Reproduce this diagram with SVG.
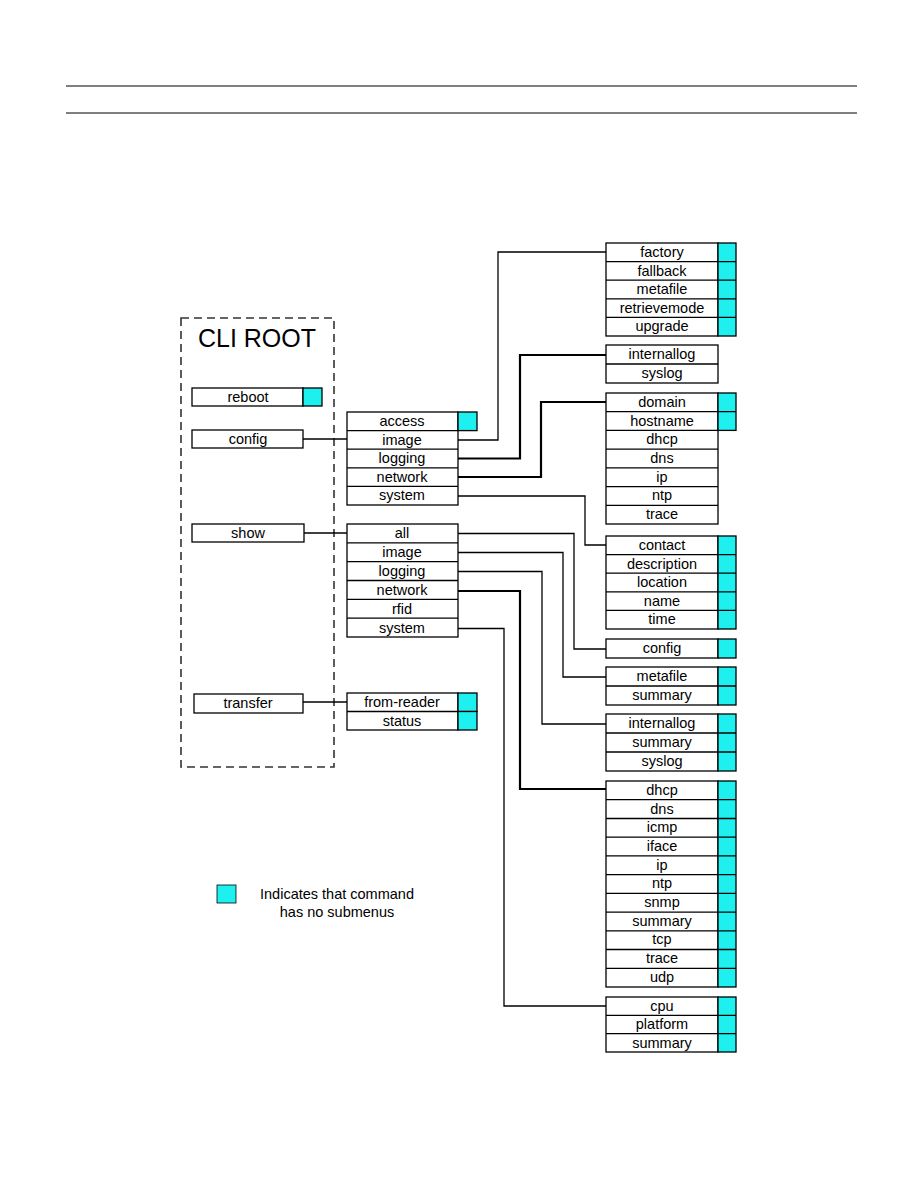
<svg xmlns="http://www.w3.org/2000/svg" width="918" height="1188" viewBox="0 0 918 1188">
<style>
.bx{fill:#fff;stroke:#000;stroke-width:1.3}
.cy{fill:#1ef0f0;stroke:#000;stroke-width:1.3}
.sep{stroke:#000;stroke-width:1.3}
.t{font-family:"Liberation Sans",Arial,sans-serif;font-size:14.5px;text-anchor:middle;fill:#000}
.c{fill:none;stroke:#000;stroke-width:1.3}
.ck{fill:none;stroke:#000;stroke-width:2.2}
</style>
<rect width="918" height="1188" fill="#fff"/>
<line x1="66" y1="86" x2="857" y2="86" stroke="#000" stroke-width="1.2"/>
<line x1="66" y1="113" x2="857" y2="113" stroke="#000" stroke-width="1.2"/>

<g id="cli-root">
<rect x="181" y="318" width="153" height="449" fill="none" stroke="#333" stroke-width="1.6" stroke-dasharray="8,5"/>
<text x="257" y="347" font-family="'Liberation Sans',Arial,sans-serif" font-size="25" text-anchor="middle">CLI ROOT</text>
</g>
<g id="reboot"><rect class="bx" x="192" y="388" width="111" height="18"/><rect class="cy" x="303" y="388" width="19" height="18"/><text class="t" x="248" y="402">reboot</text></g>
<g id="config"><rect class="bx" x="192" y="430" width="111" height="18"/><text class="t" x="248" y="444">config</text></g>
<g id="show"><rect class="bx" x="192" y="524" width="112" height="18"/><text class="t" x="248" y="538">show</text></g>
<g id="transfer"><rect class="bx" x="194" y="694" width="109" height="19"/><text class="t" x="248" y="708">transfer</text></g>

<g id="config-menu">
<rect class="bx" x="347" y="412" width="111" height="93"/>
<rect class="cy" x="458" y="412" width="19" height="18.6"/>
<line class="sep" x1="347" y1="430.6" x2="458" y2="430.6"/>
<line class="sep" x1="347" y1="449.2" x2="458" y2="449.2"/>
<line class="sep" x1="347" y1="467.8" x2="458" y2="467.8"/>
<line class="sep" x1="347" y1="486.4" x2="458" y2="486.4"/>
<text class="t" x="402" y="426">access</text>
<text class="t" x="402" y="444.5">image</text>
<text class="t" x="402" y="463">logging</text>
<text class="t" x="402" y="481.5">network</text>
<text class="t" x="402" y="500">system</text>
</g>

<g id="show-menu">
<rect class="bx" x="347" y="524" width="111" height="113"/>
<line class="sep" x1="347" y1="542.8" x2="458" y2="542.8"/>
<line class="sep" x1="347" y1="561.7" x2="458" y2="561.7"/>
<line class="sep" x1="347" y1="580.5" x2="458" y2="580.5"/>
<line class="sep" x1="347" y1="599.3" x2="458" y2="599.3"/>
<line class="sep" x1="347" y1="618.2" x2="458" y2="618.2"/>
<text class="t" x="402" y="538">all</text>
<text class="t" x="402" y="557">image</text>
<text class="t" x="402" y="576">logging</text>
<text class="t" x="402" y="595">network</text>
<text class="t" x="402" y="613.5">rfid</text>
<text class="t" x="402" y="632.5">system</text>
</g>

<g id="transfer-menu">
<rect class="bx" x="347" y="693" width="111" height="37"/>
<rect class="cy" x="458" y="693" width="19" height="18.5"/>
<rect class="cy" x="458" y="711.5" width="19" height="18.5"/>
<line class="sep" x1="347" y1="711.5" x2="458" y2="711.5"/>
<text class="t" x="402" y="707">from-reader</text>
<text class="t" x="402" y="725.5">status</text>
</g>

<g id="config-image">
<rect class="bx" x="606" y="243" width="112" height="93"/>
<rect class="cy" x="718" y="243" width="18" height="93"/>
<line class="sep" x1="606" y1="261.6" x2="736" y2="261.6"/>
<line class="sep" x1="606" y1="280.2" x2="736" y2="280.2"/>
<line class="sep" x1="606" y1="298.8" x2="736" y2="298.8"/>
<line class="sep" x1="606" y1="317.4" x2="736" y2="317.4"/>
<text class="t" x="662" y="257">factory</text>
<text class="t" x="662" y="275.5">fallback</text>
<text class="t" x="662" y="294">metafile</text>
<text class="t" x="662" y="312.5">retrievemode</text>
<text class="t" x="662" y="331">upgrade</text>
</g>

<g id="config-logging">
<rect class="bx" x="606" y="345" width="112" height="38"/>
<line class="sep" x1="606" y1="364" x2="718" y2="364"/>
<text class="t" x="662" y="359">internallog</text>
<text class="t" x="662" y="378">syslog</text>
</g>

<g id="config-network">
<rect class="bx" x="606" y="393" width="112" height="131"/>
<rect class="cy" x="718" y="393" width="18" height="37.4"/>
<line class="sep" x1="606" y1="411.7" x2="736" y2="411.7"/>
<line class="sep" x1="606" y1="430.4" x2="718" y2="430.4"/>
<line class="sep" x1="606" y1="449.1" x2="718" y2="449.1"/>
<line class="sep" x1="606" y1="467.9" x2="718" y2="467.9"/>
<line class="sep" x1="606" y1="486.6" x2="718" y2="486.6"/>
<line class="sep" x1="606" y1="505.3" x2="718" y2="505.3"/>
<text class="t" x="662" y="407">domain</text>
<text class="t" x="662" y="425.5">hostname</text>
<text class="t" x="662" y="444">dhcp</text>
<text class="t" x="662" y="463">dns</text>
<text class="t" x="662" y="481.5">ip</text>
<text class="t" x="662" y="500">ntp</text>
<text class="t" x="662" y="519">trace</text>
</g>

<g id="config-system">
<rect class="bx" x="606" y="536" width="112" height="93"/>
<rect class="cy" x="718" y="536" width="18" height="93"/>
<line class="sep" x1="606" y1="554.6" x2="736" y2="554.6"/>
<line class="sep" x1="606" y1="573.2" x2="736" y2="573.2"/>
<line class="sep" x1="606" y1="591.8" x2="736" y2="591.8"/>
<line class="sep" x1="606" y1="610.4" x2="736" y2="610.4"/>
<text class="t" x="662" y="550">contact</text>
<text class="t" x="662" y="568.5">description</text>
<text class="t" x="662" y="587">location</text>
<text class="t" x="662" y="605.5">name</text>
<text class="t" x="662" y="624">time</text>
</g>

<g id="show-all">
<rect class="bx" x="606" y="639" width="112" height="19"/>
<rect class="cy" x="718" y="639" width="18" height="19"/>
<text class="t" x="662" y="653">config</text>
</g>

<g id="show-image">
<rect class="bx" x="606" y="667" width="112" height="38"/>
<rect class="cy" x="718" y="667" width="18" height="38"/>
<line class="sep" x1="606" y1="686" x2="736" y2="686"/>
<text class="t" x="662" y="681">metafile</text>
<text class="t" x="662" y="700">summary</text>
</g>

<g id="show-logging">
<rect class="bx" x="606" y="714" width="112" height="57"/>
<rect class="cy" x="718" y="714" width="18" height="57"/>
<line class="sep" x1="606" y1="733" x2="736" y2="733"/>
<line class="sep" x1="606" y1="752" x2="736" y2="752"/>
<text class="t" x="662" y="728">internallog</text>
<text class="t" x="662" y="747">summary</text>
<text class="t" x="662" y="766">syslog</text>
</g>

<g id="show-network">
<rect class="bx" x="606" y="781" width="112" height="206"/>
<rect class="cy" x="718" y="781" width="18" height="206"/>
<line class="sep" x1="606" y1="799.7" x2="736" y2="799.7"/>
<line class="sep" x1="606" y1="818.5" x2="736" y2="818.5"/>
<line class="sep" x1="606" y1="837.2" x2="736" y2="837.2"/>
<line class="sep" x1="606" y1="855.9" x2="736" y2="855.9"/>
<line class="sep" x1="606" y1="874.6" x2="736" y2="874.6"/>
<line class="sep" x1="606" y1="893.4" x2="736" y2="893.4"/>
<line class="sep" x1="606" y1="912.1" x2="736" y2="912.1"/>
<line class="sep" x1="606" y1="930.8" x2="736" y2="930.8"/>
<line class="sep" x1="606" y1="949.5" x2="736" y2="949.5"/>
<line class="sep" x1="606" y1="968.3" x2="736" y2="968.3"/>
<text class="t" x="662" y="795">dhcp</text>
<text class="t" x="662" y="813.5">dns</text>
<text class="t" x="662" y="832">icmp</text>
<text class="t" x="662" y="851">iface</text>
<text class="t" x="662" y="869.5">ip</text>
<text class="t" x="662" y="888">ntp</text>
<text class="t" x="662" y="907">snmp</text>
<text class="t" x="662" y="925.5">summary</text>
<text class="t" x="662" y="944">tcp</text>
<text class="t" x="662" y="963">trace</text>
<text class="t" x="662" y="981.5">udp</text>
</g>

<g id="show-system">
<rect class="bx" x="606" y="997" width="112" height="55"/>
<rect class="cy" x="718" y="997" width="18" height="55"/>
<line class="sep" x1="606" y1="1015.3" x2="736" y2="1015.3"/>
<line class="sep" x1="606" y1="1033.7" x2="736" y2="1033.7"/>
<text class="t" x="662" y="1010.5">cpu</text>
<text class="t" x="662" y="1029">platform</text>
<text class="t" x="662" y="1047.5">summary</text>
</g>

<g id="legend">
<rect x="217" y="885" width="19" height="18" fill="#1ef0f0" stroke="#000" stroke-width="0.8"/>
<text class="t" x="337" y="899">Indicates that command</text>
<text class="t" x="337" y="917">has no submenus</text>
</g>

<g id="connectors">
<line class="c" x1="303" y1="439" x2="347" y2="439"/>
<line class="c" x1="304" y1="533" x2="347" y2="533"/>
<line class="c" x1="303" y1="702" x2="347" y2="702"/>
<polyline class="c" points="458,440 498,440 498,252 606,252"/>
<polyline class="ck" points="458,458.5 520,458.5 520,355 606,355"/>
<polyline class="ck" points="458,477 541,477 541,402 606,402"/>
<polyline class="c" points="458,496 585,496 585,545 606,545"/>
<polyline class="c" points="458,533.5 574,533.5 574,649 606,649"/>
<polyline class="c" points="458,552.5 563,552.5 563,677 606,677"/>
<polyline class="c" points="458,571.5 542,571.5 542,724 606,724"/>
<polyline class="ck" points="458,591 520,591 520,789 606,789"/>
<polyline class="c" points="458,628.5 504,628.5 504,1006 606,1006"/>
</g>
</svg>
